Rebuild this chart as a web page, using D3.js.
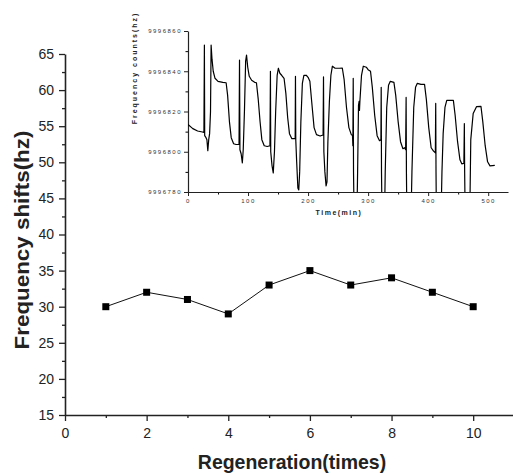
<!DOCTYPE html>
<html>
<head>
<meta charset="utf-8">
<script src="https://cdn.jsdelivr.net/npm/d3@7"></script>
<style>
  body { margin: 0; background: #fff; }
  svg { font-family: Arial, "Liberation Sans", sans-serif; }
</style>
</head>
<body>
<svg width="513" height="473"></svg>
<script>
// main chart: frequency shift per regeneration
var regen = [1, 2, 3, 4, 5, 6, 7, 8, 9, 10];
var shifts = [30, 32, 31, 29, 33, 35, 33, 34, 32, 30];
var xTicks = [0, 2, 4, 6, 8, 10];
var yTicks = [15, 20, 25, 30, 35, 40, 45, 50, 55, 60, 65];

// inset: raw frequency counts over time
var timeMin = [0, 8, 16, 24, 26.5, 27.3, 27.8, 30, 31.5, 33, 34.5, 36, 37.5, 38.5, 40, 42, 45, 50, 58, 63.5,
  66, 69, 72, 76, 80, 85, 85.8, 86.5, 88.5, 90.5, 92, 94, 96, 97.5, 99.5, 102, 106, 111, 114,
  117, 120, 123, 127, 132, 136.5, 137.3, 137.8, 140, 142, 144, 146, 148.5, 150.5, 153, 156, 160,
  163, 166, 169, 173, 178.5, 179, 179.5, 181, 183, 184.5, 186, 188, 190.5, 193, 197, 200, 203,
  206, 210, 214, 220, 225, 225.7, 226.3, 228, 230, 231.5, 233, 235.5, 238, 240.5, 245, 252, 257,
  260, 264, 268, 272, 274, 274.6, 275.2, 275.7, 277, 281, 282.5, 284, 285, 285.6, 286.3, 289, 292,
  297, 300, 304, 307, 311, 315, 319, 321.3, 321.8, 322.3, 323.5, 327, 328.5, 331, 334, 337, 343,
  346, 350, 354, 358, 361, 362.5, 363.3, 363.8, 364.5, 366, 371, 373, 376, 379, 382, 388, 394,
  397, 401, 405, 409, 412, 412.6, 413.1, 414, 421, 423, 425, 428, 431, 442,
  445, 449, 453, 456, 459.5, 460.3, 460.8, 462, 469, 471, 475, 480.5, 488,
  491, 495, 499, 503, 511];
var counts = [9996813.6, 9996811.5, 9996810.3, 9996809.8, 9996809.6, 9996853, 9996808, 9996807, 9996806, 9996800.5, 9996806, 9996809, 9996820, 9996853, 9996846, 9996840, 9996836.5, 9996835, 9996834.5, 9996834.3,
  9996828, 9996815, 9996807, 9996804, 9996803.6, 9996803.7, 9996845.5, 9996801, 9996799, 9996794.5, 9996801, 9996820, 9996845, 9996848, 9996842, 9996837.5, 9996835.5, 9996834.5, 9996834.3,
  9996826, 9996815, 9996806, 9996803, 9996802.6, 9996803, 9996840, 9996800, 9996793, 9996789.5, 9996800, 9996820, 9996838, 9996841.5, 9996839, 9996838, 9996836.5,
  9996829, 9996817, 9996809, 9996806.5, 9996806.5, 9996837.5, 9996806, 9996795, 9996782, 9996781, 9996790, 9996815, 9996834, 9996838, 9996838, 9996837, 9996835,
  9996825, 9996812, 9996808.5, 9996807.8, 9996808.3, 9996837.2, 9996800, 9996790, 9996783, 9996785, 9996805, 9996825, 9996838, 9996842.5, 9996841.5, 9996841.5, 9996841.6,
  9996836, 9996822, 9996812, 9996808.5, 9996808, 9996803, 9996836.5, 9996790, 9996760, 9996760, 9996790, 9996823, 9996825, 9996820.5, 9996825, 9996838, 9996842.5,
  9996842, 9996840.8, 9996840, 9996832, 9996818, 9996808, 9996805.5, 9996806, 9996832, 9996790, 9996760, 9996760, 9996790, 9996822, 9996833, 9996835, 9996834.5,
  9996828, 9996815, 9996805, 9996801.5, 9996802, 9996801, 9996827, 9996790, 9996770, 9996760, 9996760, 9996790, 9996822, 9996832, 9996834, 9996833.5, 9996833.5,
  9996826, 9996812, 9996802, 9996800.3, 9996799.5, 9996824, 9996790, 9996760, 9996760, 9996790, 9996809, 9996822, 9996825.5, 9996825.5,
  9996818, 9996805, 9996796, 9996794, 9996794.2, 9996814, 9996790, 9996760, 9996760, 9996806, 9996819, 9996822.4, 9996822.5,
  9996815, 9996803, 9996795, 9996793, 9996793.2];
var insetXTicks = [0, 100, 200, 300, 400, 500];
var insetYTicks = [9996780, 9996800, 9996820, 9996840, 9996860];

var svg = d3.select("svg");
var ink = "#222";

// ---------- main plot ----------
var x = d3.scaleLinear().domain([0, 11]).range([65, 514]);
var y = d3.scaleLinear().domain([15, 65]).range([415, 54]);

// minor ticks first
svg.append("g")
    .attr("transform", "translate(0,415)")
    .call(d3.axisBottom(x).tickValues(d3.range(1, 11, 2)).tickSize(3).tickFormat(""))
    .select(".domain").remove();
svg.append("g")
    .attr("transform", "translate(65,0)")
    .call(d3.axisLeft(y).tickValues(d3.range(17.5, 65, 5)).tickSize(3).tickFormat(""))
    .select(".domain").remove();

var gx = svg.append("g")
    .attr("transform", "translate(0,415)")
    .call(d3.axisBottom(x).tickValues(xTicks).tickSize(6).tickPadding(7).tickSizeOuter(0));
var gy = svg.append("g")
    .attr("transform", "translate(65,0)")
    .call(d3.axisLeft(y).tickValues(yTicks).tickSize(6).tickPadding(5).tickSizeOuter(0));

[gx, gy].forEach(function(g) {
  g.selectAll("text").attr("font-size", 14).attr("font-family", "Arial, 'Liberation Sans'").attr("fill", ink);
  g.select(".domain").attr("stroke", ink).attr("stroke-width", 1.6);
});
svg.selectAll("g line").attr("stroke", ink).attr("stroke-width", 1.3);

var line = d3.line()
    .x(function(d, i) { return x(regen[i]); })
    .y(function(d) { return y(d); });

svg.append("path")
    .datum(shifts)
    .attr("fill", "none")
    .attr("stroke", "#111")
    .attr("stroke-width", 1)
    .attr("d", line);

svg.selectAll("rect.pt")
    .data(shifts)
  .enter().append("rect")
    .attr("class", "pt")
    .attr("x", function(d, i) { return x(regen[i]) - 3.5; })
    .attr("y", function(d) { return y(d) - 3.5; })
    .attr("width", 7)
    .attr("height", 7)
    .attr("fill", "#000");

svg.append("text")
    .attr("transform", "translate(29,240) rotate(-90) scale(1.12,1)")
    .attr("text-anchor", "middle")
    .attr("font-size", 20)
    .attr("font-weight", "bold")
    .attr("fill", ink)
    .text("Frequency shifts(hz)");

svg.append("text")
    .attr("transform", "translate(292,469) scale(1,1.06)")
    .attr("text-anchor", "middle")
    .attr("font-size", 19.5)
    .attr("font-weight", "bold")
    .attr("fill", ink)
    .text("Regeneration(times)");

// ---------- inset ----------
var ix = d3.scaleLinear().domain([0, 533]).range([188, 508]);
var iy = d3.scaleLinear().domain([9996780, 9996860]).range([192, 31]);

svg.append("clipPath").attr("id", "insetClip")
  .append("rect").attr("x", 188).attr("y", 25).attr("width", 322).attr("height", 167);

svg.append("g")
    .attr("transform", "translate(0,192)")
    .call(d3.axisBottom(ix).tickValues(d3.range(50, 533, 100)).tickSize(2.5).tickFormat(""))
    .select(".domain").remove();
svg.append("g")
    .attr("transform", "translate(188,0)")
    .call(d3.axisLeft(iy).tickValues(d3.range(9996790, 9996860, 20)).tickSize(2.5).tickFormat(""))
    .select(".domain").remove();

var igx = svg.append("g")
    .attr("transform", "translate(0,192)")
    .call(d3.axisBottom(ix).tickValues(insetXTicks).tickFormat(d3.format("d"))
      .tickSize(4).tickPadding(3).tickSizeOuter(0));
var igy = svg.append("g")
    .attr("transform", "translate(188,0)")
    .call(d3.axisLeft(iy).tickValues(insetYTicks).tickFormat(d3.format("d"))
      .tickSize(4).tickPadding(2).tickSizeOuter(0));

[igx, igy].forEach(function(g) {
  g.selectAll("text").attr("font-size", 6).attr("font-family", "Arial, 'Liberation Sans'")
    .attr("fill", "#333").style("letter-spacing", "1.5px");
  g.selectAll("line").attr("stroke", ink).attr("stroke-width", 1);
  g.select(".domain").attr("stroke", ink).attr("stroke-width", 1.2);
});

var iline = d3.line()
    .x(function(d, i) { return ix(timeMin[i]); })
    .y(function(d) { return iy(d); });

svg.append("path")
    .datum(counts)
    .attr("clip-path", "url(#insetClip)")
    .attr("fill", "none")
    .attr("stroke", "#000")
    .attr("stroke-width", 1.2)
    .attr("stroke-linejoin", "round")
    .attr("d", iline);

svg.append("text")
    .attr("transform", "translate(137,68) rotate(-90)")
    .attr("text-anchor", "middle")
    .attr("font-size", 7)
    .attr("font-weight", "bold")
    .attr("fill", ink)
    .style("letter-spacing", "2px")
    .text("Frequency counts(hz)");

svg.append("text")
    .attr("x", 339)
    .attr("y", 215)
    .attr("text-anchor", "middle")
    .attr("font-size", 7)
    .attr("font-weight", "bold")
    .attr("fill", ink)
    .style("letter-spacing", "1.5px")
    .text("Time(min)");
</script>
</body>
</html>
